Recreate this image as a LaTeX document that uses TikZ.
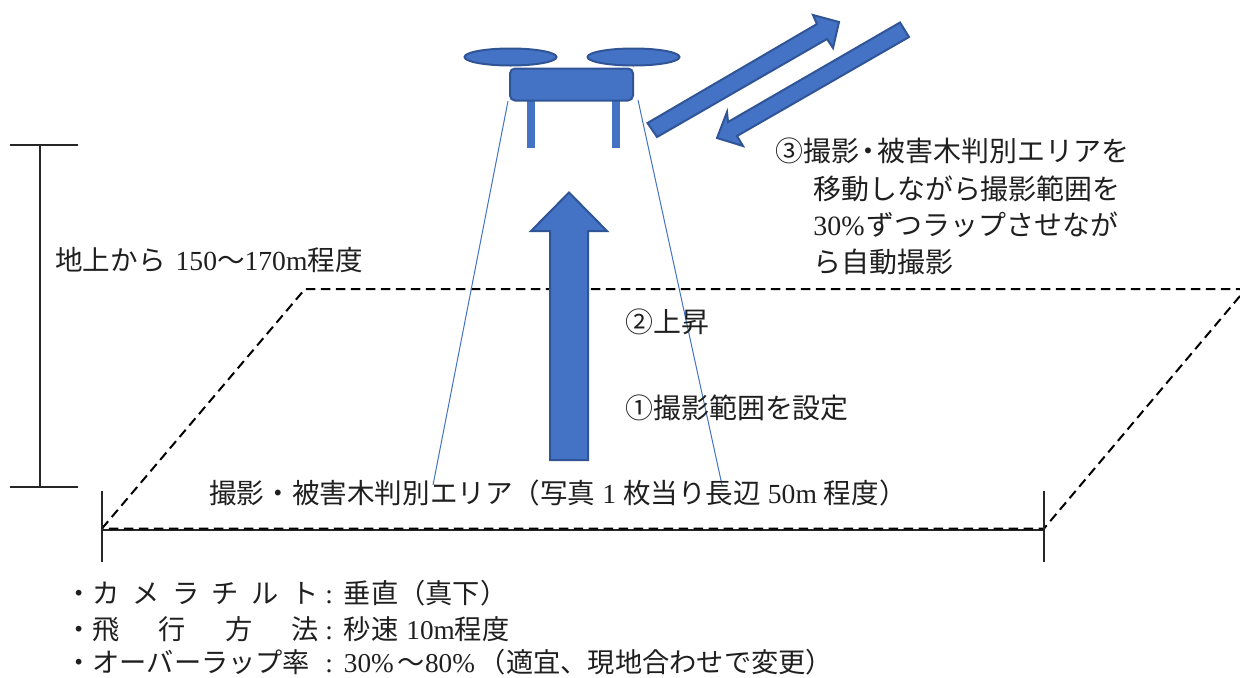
\documentclass[tikz,border=0pt]{standalone}
\usepackage{fontspec}
\setmainfont{Liberation Serif}
\newfontfamily\cjk{Noto Sans CJK JP}
\definecolor{dronefill}{HTML}{4472C4}
\definecolor{droneline}{HTML}{2F5597}
\newcommand{\jp}[1]{{\cjk #1}}
\newcommand{\gp}[1]{\hspace{#1\dimexpr0.02cm\relax}}
\tikzset{
  x=0.02cm,y=-0.02cm,
  shapeblue/.style={fill=dronefill,draw=droneline,line width=0.04cm,line join=miter},
  legblue/.style={fill=dronefill,draw=none},
  beam/.style={draw=dronefill,line width=0.02cm},
  rule/.style={draw=black!85,line width=0.028cm},
  dashline/.style={draw=black,line width=0.04cm,dash pattern=on 0.19cm off 0.11cm},
  lbl/.style={anchor=west,inner sep=0pt,text=black!88,font=\fontsize{#1}{#1}\selectfont},
  lbl/.default=15.7
}
\begin{document}
\begin{tikzpicture}
\useasboundingbox (0,0) rectangle (1240,677);
% ground area
\coordinate (a1) at (102,528.5);
\coordinate (a2) at (305,289);
\coordinate (a3) at (1240,289);
\coordinate (a4) at (1240,296);
\coordinate (a5) at (1044,528.5);
\coordinate (g1) at (102,530);
\coordinate (g2) at (1044,530);
\draw[rule] (g1) -- (g2);
\draw[dashline] (a1) -- (a2) -- (a3);
\draw[dashline] (a4) -- (a5) -- (a1);
\draw[rule] (102,491) -- (102,562);
\draw[rule] (1044,491) -- (1044,562);
% height bracket
\draw[rule] (10,145) -- (78,145);
\draw[rule] (10,487) -- (78,487);
\draw[rule] (40,145) -- (40,487);
% camera beams
\draw[beam] (508,101) -- (433,485);
\draw[beam] (638,100) -- (722,485);
% drone
\draw[shapeblue] (510.5,57) ellipse (46 and 8.5);
\draw[shapeblue] (633.5,57) ellipse (46 and 8.5);
\fill[legblue] (527,100) rectangle (535,148);
\fill[legblue] (612,100) rectangle (620,148);
\draw[shapeblue,rounded corners=0.1cm] (510,68.5) rectangle (633,100.5);
% arrows
\draw[shapeblue] (569,192.5) -- (607,231) -- (588,231) -- (588,460) -- (550,460) -- (550,231) -- (531,231) -- cycle;
\draw[shapeblue] (647.5,123) -- (657,137) -- (827,39) -- (833,48) -- (839,22) -- (813,15) -- (817,24) -- cycle;
\draw[shapeblue] (900,22.5) -- (909,37) -- (737,136) -- (743,146) -- (717,138) -- (727,112) -- (728,122) -- cycle;
% labels
\node[lbl=15.9] (t3a) at (775,151) {\jp{③撮影\hspace{-.17em}・\hspace{-.17em}被害木判別エリアを}};
\node[lbl=15.9] (t3b) at (813,189) {\jp{移動しながら撮影範囲を}};
\node[lbl=15.9] (t3c) at (813,225) {30\%\gp{2}\jp{ずつラップさせなが}};
\node[lbl=15.9] (t3d) at (813,262) {\jp{ら自動撮影}};
\node[lbl=15.9] (t2) at (625,322) {\jp{②上昇}};
\node[lbl=15.9] (t1) at (625,408) {\jp{①撮影範囲を設定}};
\node[lbl=15.7] (th) at (55,260) {\jp{地上から}\gp{10}150\jp{〜}170m\jp{程度}};
\node[lbl=15.7] (ta) at (209,493) {\jp{撮影・被害木判別エリア（写真} 1 \jp{枚当り長辺} 50m \jp{程度）}};
\node[lbl=15.5] (b1a) at (65,593) {\jp{・カ\gp{12.5}メ\gp{12.5}ラ\gp{12.5}チ\gp{12.5}ル\gp{12.5}ト}};
\node[lbl=15.5] (b1b) at (325,593) {:\gp{11}\jp{垂直（真下）}};
\node[lbl=15.5] (b2a) at (65,629) {\jp{・飛\gp{39}行\gp{39}方\gp{39}法}};
\node[lbl=15.5] (b2b) at (325,629) {:\gp{11}\jp{秒速}\gp{8}10m\jp{程度}};
\node[lbl=15.5] (b3a) at (65,662) {\jp{・オーバーラップ率}};
\node[lbl=15.5] (b3b) at (325,662) {:\gp{11}30\%\gp{4}\jp{〜}80\%\gp{4}\jp{（適宜、現地合わせで変更）}};
\end{tikzpicture}
\end{document}
